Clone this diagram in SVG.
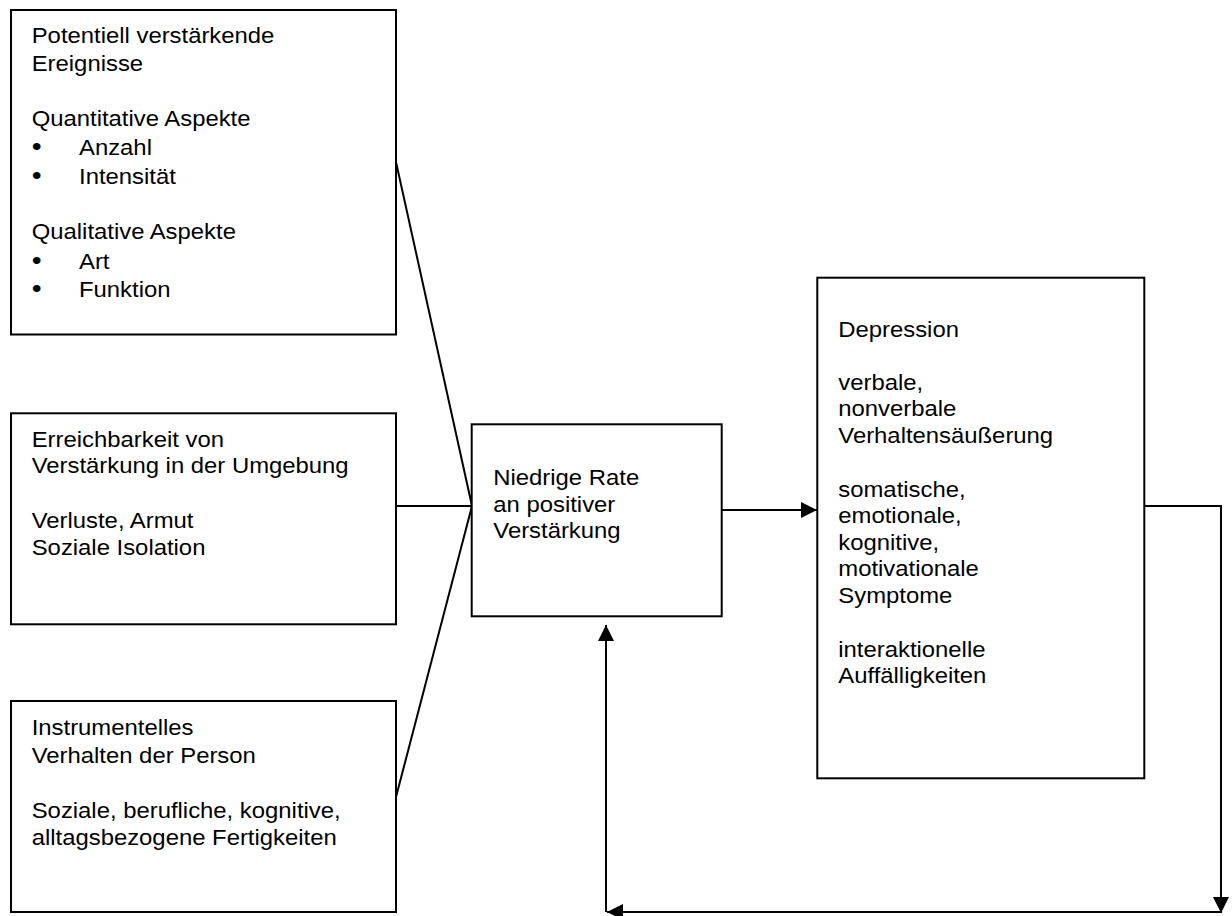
<svg xmlns="http://www.w3.org/2000/svg" width="1232" height="916" viewBox="0 0 1232 916">
  <defs>
    <style>
      .box { fill: #ffffff; stroke: #000000; stroke-width: 2; }
      .wire { fill: none; stroke: #000000; stroke-width: 2; }
      .lbl { font-family: "Liberation Sans", Arial, sans-serif; font-size: 22px; fill: #000000; }
      .dot { font-size: 26px; }
    </style>
    <marker id="arrow" viewBox="0 0 16 16" refX="16" refY="8" markerWidth="16" markerHeight="16" markerUnits="userSpaceOnUse" orient="auto">
      <path d="M0,0 L16,8 L0,16 Z" fill="#000000"/>
    </marker>
  </defs>

  <rect width="1232" height="916" fill="#ffffff"/>

  <!-- connectors -->
  <g id="connectors">
    <line class="wire" x1="396" y1="162" x2="472" y2="506"/>
    <line class="wire" x1="396" y1="506" x2="472" y2="506"/>
    <line class="wire" x1="396" y1="797" x2="472" y2="506"/>
    <line class="wire" x1="722" y1="510" x2="817" y2="510" marker-end="url(#arrow)"/>
    <line class="wire" x1="1144" y1="506" x2="1222" y2="506"/>
    <line class="wire" x1="1221" y1="507" x2="1221" y2="913" marker-end="url(#arrow)"/>
    <line class="wire" x1="1221" y1="912" x2="607" y2="912" marker-end="url(#arrow)"/>
    <line class="wire" x1="606" y1="912" x2="606" y2="625" marker-end="url(#arrow)"/>
  </g>

  <!-- potentially reinforcing events -->
  <g id="node-ereignisse">
    <rect class="box" x="11" y="10" width="385" height="324.5"/>
    <g transform="translate(31.7,0) scale(1.085,1)">
      <text class="lbl" x="0" y="42.7">Potentiell verstärkende</text>
      <text class="lbl" x="0" y="70.7">Ereignisse</text>
      <text class="lbl" x="0" y="126.5">Quantitative Aspekte</text>
      <text class="lbl" x="0" y="155"><tspan class="dot">•</tspan><tspan x="43.6">Anzahl</tspan></text>
      <text class="lbl" x="0" y="184"><tspan class="dot">•</tspan><tspan x="43.6">Intensität</tspan></text>
      <text class="lbl" x="0" y="239.5">Qualitative Aspekte</text>
      <text class="lbl" x="0" y="269"><tspan class="dot">•</tspan><tspan x="43.6">Art</tspan></text>
      <text class="lbl" x="0" y="297"><tspan class="dot">•</tspan><tspan x="43.6">Funktion</tspan></text>
    </g>
  </g>

  <!-- availability of reinforcement -->
  <g id="node-erreichbarkeit">
    <rect class="box" x="11" y="413.3" width="385" height="211"/>
    <g transform="translate(31.7,0) scale(1.085,1)">
      <text class="lbl" x="0" y="446.7">Erreichbarkeit von</text>
      <text class="lbl" x="0" y="473.3">Verstärkung in der Umgebung</text>
      <text class="lbl" x="0" y="528.3">Verluste, Armut</text>
      <text class="lbl" x="0" y="555">Soziale Isolation</text>
    </g>
  </g>

  <!-- instrumental behaviour -->
  <g id="node-verhalten">
    <rect class="box" x="11" y="701" width="385" height="211"/>
    <g transform="translate(31.7,0) scale(1.085,1)">
      <text class="lbl" x="0" y="735">Instrumentelles</text>
      <text class="lbl" x="0" y="762.7">Verhalten der Person</text>
      <text class="lbl" x="0" y="818">Soziale, berufliche, kognitive,</text>
      <text class="lbl" x="0" y="845">alltagsbezogene Fertigkeiten</text>
    </g>
  </g>

  <!-- low rate of positive reinforcement -->
  <g id="node-rate">
    <rect class="box" x="471.7" y="424.3" width="250" height="192"/>
    <g transform="translate(493.3,0) scale(1.085,1)">
      <text class="lbl" x="0" y="485">Niedrige Rate</text>
      <text class="lbl" x="0" y="512">an positiver</text>
      <text class="lbl" x="0" y="538.5">Verstärkung</text>
    </g>
  </g>

  <!-- depression -->
  <g id="node-depression">
    <rect class="box" x="817.3" y="277.7" width="327" height="500.6"/>
    <g transform="translate(838.3,0) scale(1.085,1)">
      <text class="lbl" x="0" y="337.3">Depression</text>
      <text class="lbl" x="0" y="390">verbale,</text>
      <text class="lbl" x="0" y="416.3">nonverbale</text>
      <text class="lbl" x="0" y="442.7">Verhaltensäußerung</text>
      <text class="lbl" x="0" y="496.7">somatische,</text>
      <text class="lbl" x="0" y="523.3">emotionale,</text>
      <text class="lbl" x="0" y="549.7">kognitive,</text>
      <text class="lbl" x="0" y="576.3">motivationale</text>
      <text class="lbl" x="0" y="602.7">Symptome</text>
      <text class="lbl" x="0" y="656.7">interaktionelle</text>
      <text class="lbl" x="0" y="683.3">Auffälligkeiten</text>
    </g>
  </g>
</svg>
